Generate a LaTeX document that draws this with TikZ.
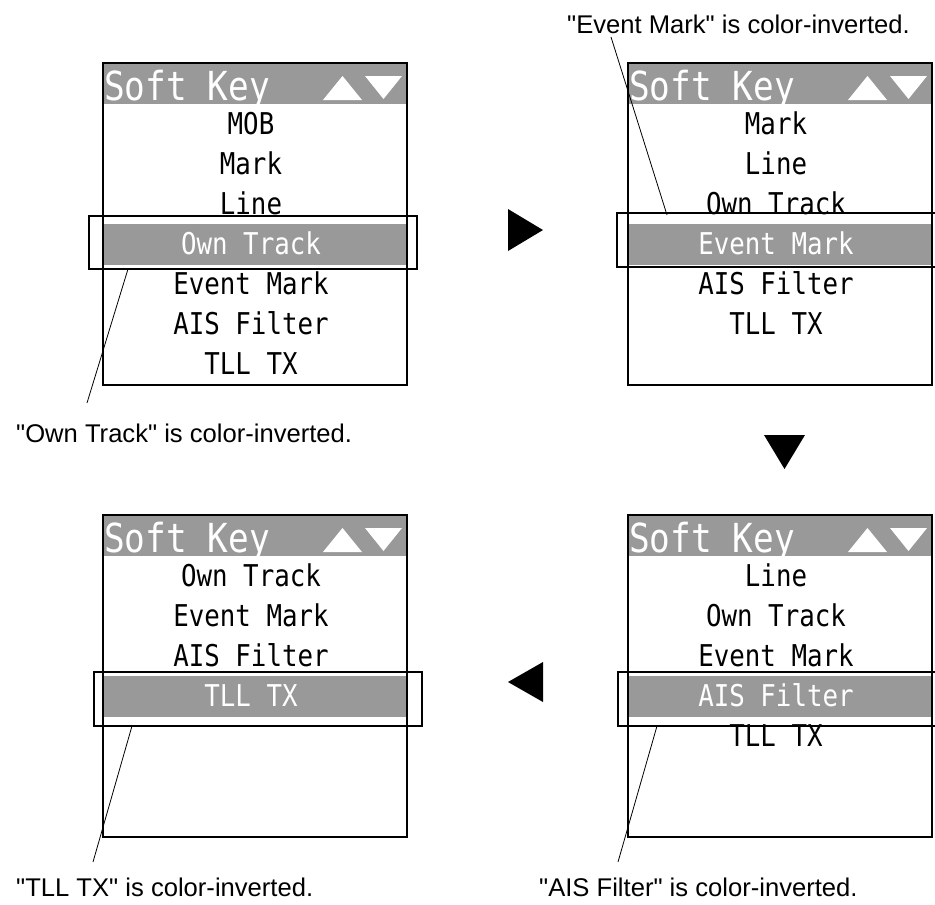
\documentclass[tikz,border=0pt]{standalone}
\usepackage{fontspec}
\setmainfont{Liberation Sans}
\newfontfamily\lblfont{Liberation Sans}
\newfontfamily\lcdfont[FakeStretch=0.86]{DejaVu Sans Mono}
\definecolor{hdr}{RGB}{153,153,153}
\tikzset{
  panelbox/.style={draw=black, line width=2.6pt},
  hdrtext/.style={anchor=base west, inner sep=0pt, text=white, font=\lcdfont\fontsize{40}{40}\selectfont},
  itemtext/.style={anchor=base, inner sep=0pt, text=black, font=\lcdfont\fontsize{30}{30}\selectfont},
  calloutbox/.style={draw=black, line width=1.1pt},
  leader/.style={draw=black, line width=0.8pt},
  lbl/.style={anchor=base west, inner sep=0pt, font=\lblfont\fontsize{25.6}{26}\selectfont},
  stepmark/.style={fill=black}
}
\newcommand{\drawpanel}[4]{%
  \begin{scope}[shift={(#2,#3)}]
    \fill[white] (0,0) rectangle (304,322);
    \fill[hdr] (0,0) rectangle (304,41);
    \fill[hdr] (0,161) rectangle (304,202);
    \node[hdrtext] (#1-title) at (1,37) {Soft Key};
    \fill[white] (220,37) -- (259,37) -- (239.5,13) -- cycle;
    \fill[white] (262,13) -- (299,13) -- (280.5,36) -- cycle;
    \foreach \t [count=\i] in {#4} {
      \ifnum\i=4
        \node[itemtext, text=white] (#1-\i) at (148,{31+40*\i}) {\t};
      \else
        \node[itemtext] (#1-\i) at (148,{31+40*\i}) {\t};
      \fi
    }
    \draw[panelbox] (0,0) rectangle (304,322);
  \end{scope}}
\begin{document}
\begin{tikzpicture}[x=1pt, y=-1pt]
  \useasboundingbox (0,0) rectangle (935,905);
  \clip (0,0) rectangle (935,905);
  \fill[white] (0,0) rectangle (935,905);

  % panels
  \drawpanel{tl}{103}{63}{MOB,Mark,Line,Own Track,Event Mark,AIS Filter,TLL TX}
  \drawpanel{tr}{628}{63}{Mark,Line,Own Track,Event Mark,AIS Filter,TLL TX}
  \drawpanel{bl}{103}{515}{Own Track,Event Mark,AIS Filter,TLL TX}
  \drawpanel{br}{628}{515}{Line,Own Track,Event Mark,AIS Filter,TLL TX}

  % callout boxes
  \draw[calloutbox] (89,216) rectangle (417,269);
  \draw[calloutbox] (617,213) rectangle (950,267);
  \draw[calloutbox] (94,672) rectangle (422,726);
  \draw[calloutbox] (618,672) rectangle (950,726);

  % labels
  \node[lbl] (tl-lbl) at (16,442) {"Own Track" is color-inverted.};
  \node[lbl] (tr-lbl) at (567,33) {"Event Mark" is color-inverted.};
  \node[lbl] (bl-lbl) at (16,896) {"TLL TX" is color-inverted.};
  \node[lbl] (br-lbl) at (539,896) {"AIS Filter" is color-inverted.};

  % leader lines
  \coordinate (tl-a) at (128,269);  \coordinate (tl-b) at (87,403);
  \coordinate (tr-a) at (667,215);  \coordinate (tr-b) at (611,37);
  \coordinate (bl-a) at (132,726);  \coordinate (bl-b) at (93,862);
  \coordinate (br-a) at (657,726);  \coordinate (br-b) at (618,862);
  \draw[leader] (tl-a) -- (tl-b);
  \draw[leader] (tr-a) -- (tr-b);
  \draw[leader] (bl-a) -- (bl-b);
  \draw[leader] (br-a) -- (br-b);

  % step arrows
  \fill[stepmark] (508,209) -- (508,251) -- (543,230) -- cycle;
  \fill[stepmark] (764,435) -- (805,435) -- (784.5,469) -- cycle;
  \fill[stepmark] (543,662) -- (543,702) -- (508,682) -- cycle;
\end{tikzpicture}
\end{document}
